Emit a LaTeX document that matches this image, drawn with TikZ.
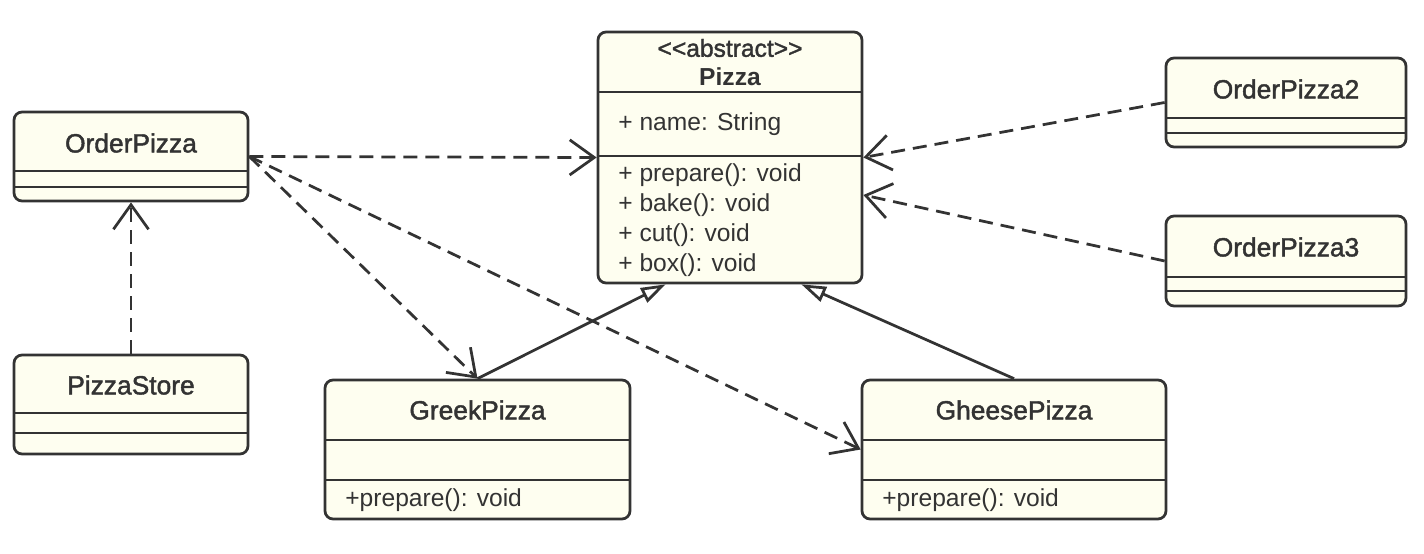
\documentclass[tikz,border=0pt]{standalone}
\usepackage{fontspec}
\setmainfont{Liberation Sans}
\newfontfamily\mediumfont{Liberation Sans}[FakeBold=1.6]
\usetikzlibrary{arrows.meta}
\definecolor{umlfill}{HTML}{FEFEF0}
\definecolor{umlline}{HTML}{333333}
\tikzset{
  classbox/.style={draw=umlline, fill=umlfill, line width=0.055cm, rounded corners=0.16cm, inner sep=0pt},
  divider/.style={draw=umlline, line width=0.055cm},
  classname/.style={text=umlline, font=\fontsize{15}{18}\selectfont\mediumfont},
  classtitle/.style={text=umlline, font=\fontsize{14}{17}\selectfont\mediumfont},
  member/.style={text=umlline, anchor=west, inner sep=0pt, font=\fontsize{14}{17}\selectfont},
  depends/.style={draw=umlline, line width=0.055cm, dash pattern=on 0.28cm off 0.16cm, -{Straight Barb[length=14pt,width=20pt]}},
  inherits/.style={draw=umlline, line width=0.055cm, -{Triangle[open,length=14pt,width=9pt]}}
}
\begin{document}
\begin{tikzpicture}[x=0.02cm,y=-0.02cm]
\useasboundingbox (0,0) rectangle (1424,554);

% Drawing class Pizza
\node[classbox, minimum width=5.28cm, minimum height=5.02cm] (Pizza) at (730,157.5) {};
\draw[divider] (598,92) -- (862,92);
\draw[divider] (598,156) -- (862,156);
\node[classtitle] (PizzaStereo) at (730,48) {<\kern0pt<abstract>\kern0pt>};
\node[classtitle, font=\fontsize{14}{17}\selectfont\bfseries] (PizzaName) at (730,77) {Pizza};
\node[member] (PizzaAttrName) at (618,124) {+ name: String};
\node[member] (PizzaPrepare) at (618,175) {+ prepare(): void};
\node[member] (PizzaBake) at (618,205) {+ bake(): void};
\node[member] (PizzaCut) at (618,235) {+ cut(): void};
\node[member] (PizzaBox) at (618,265) {+ box(): void};

% Drawing class OrderPizza
\node[classbox, minimum width=4.68cm, minimum height=1.78cm] (OrderPizza) at (131,156.5) {};
\draw[divider] (14,171) -- (248,171);
\draw[divider] (14,187) -- (248,187);
\node[classname] (OrderPizzaName) at (131,143) {OrderPizza};

% Drawing class PizzaStore
\node[classbox, minimum width=4.68cm, minimum height=1.98cm] (PizzaStore) at (131,404.5) {};
\draw[divider] (14,413) -- (248,413);
\draw[divider] (14,433) -- (248,433);
\node[classname] (PizzaStoreName) at (131,385) {PizzaStore};

% Drawing class GreekPizza
\node[classbox, minimum width=6.1cm, minimum height=2.78cm] (GreekPizza) at (477.5,449.5) {};
\draw[divider] (325,440) -- (630,440);
\draw[divider] (325,480) -- (630,480);
\node[classname] (GreekPizzaName) at (477.5,410) {GreekPizza};
\node[member] (GreekPizzaPrepare) at (345,500) {+prepare(): void};

% Drawing class GheesePizza
\node[classbox, minimum width=6.08cm, minimum height=2.78cm] (GheesePizza) at (1014,449.5) {};
\draw[divider] (862,440) -- (1166,440);
\draw[divider] (862,480) -- (1166,480);
\node[classname] (GheesePizzaName) at (1014,410) {GheesePizza};
\node[member] (GheesePizzaPrepare) at (882,500) {+prepare(): void};

% Drawing class OrderPizza2
\node[classbox, minimum width=4.8cm, minimum height=1.78cm] (OrderPizza2) at (1286,102.5) {};
\draw[divider] (1166,118) -- (1406,118);
\draw[divider] (1166,133) -- (1406,133);
\node[classname] (OrderPizza2Name) at (1286,89) {OrderPizza2};

% Drawing class OrderPizza3
\node[classbox, minimum width=4.8cm, minimum height=1.8cm] (OrderPizza3) at (1286,261) {};
\draw[divider] (1166,277) -- (1406,277);
\draw[divider] (1166,291) -- (1406,291);
\node[classname] (OrderPizza3Name) at (1286,247) {OrderPizza3};

% Drawing dependencies
\draw[depends] (OrderPizza.east) -- (Pizza.west);
\draw[depends] (OrderPizza.east) -- (GreekPizza.north);
\draw[depends] (OrderPizza.east) -- (GheesePizza.west);
\draw[depends] (PizzaStore.north) -- (OrderPizza.south);
\draw[depends] (OrderPizza2.west) -- (Pizza.east);
\draw[depends] (OrderPizza3.west) -- ([yshift=-0.75cm]Pizza.east);

% Drawing generalizations
\draw[inherits] (GreekPizza.north) -- ([xshift=1.38cm]Pizza.south west);
\draw[inherits] (GheesePizza.north) -- ([xshift=-1.24cm]Pizza.south east);
\end{tikzpicture}
\end{document}
